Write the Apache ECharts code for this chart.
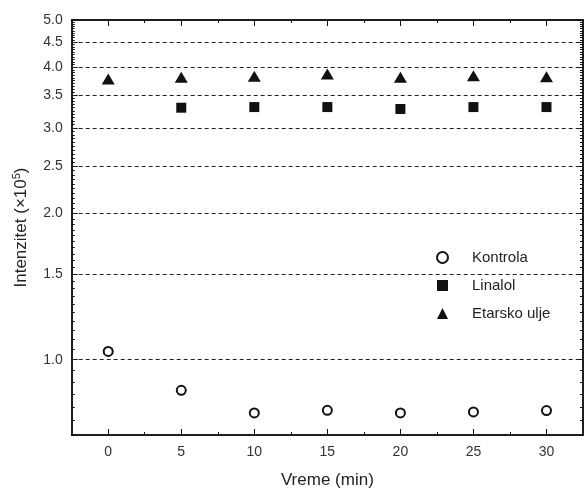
<!DOCTYPE html>
<html>
<head>
<meta charset="utf-8">
<script src="https://cdn.jsdelivr.net/npm/echarts@6/dist/echarts.min.js"></script>
<style>html,body{margin:0;padding:0;background:#fff}#c{width:584px;height:494px}</style>
</head>
<body>
<div id="c"></div>
<script>
// Data
var times = [0, 5, 10, 15, 20, 25, 30];
var kontrola = [1.04, 0.865, 0.777, 0.787, 0.777, 0.781, 0.786];
var linalolTimes = [5, 10, 15, 20, 25, 30];
var linalol = [3.30, 3.31, 3.31, 3.28, 3.31, 3.31];
var etarsko = [3.78, 3.81, 3.83, 3.87, 3.81, 3.84, 3.82];
var yTickLabels = [1.0, 1.5, 2.0, 2.5, 3.0, 3.5, 4.0, 4.5, 5.0];
var gridValues = [1.0, 1.5, 2.0, 2.5, 3.0, 3.5, 4.0, 4.5];
var xTickLabels = [0, 5, 10, 15, 20, 25, 30];
var xMinorTicks = [2.5, 7.5, 12.5, 17.5, 22.5, 27.5];

var yMinor = [];
for (var i = 0; i <= 86; i++) { yMinor.push(Math.round((0.7 + i * 0.05) * 100) / 100); }

function pairs(xs, ys) { return xs.map(function (x, i) { return [x, ys[i]]; }); }

var FONT = 'Liberation Sans';
var axisColor = '#111';
var YMIN = 0.7, YMAX = 5.0, XMIN = -2.5, XMAX = 32.5;

function yAx(pos, ticks, len, showLabel, extra) {
  var a = {
    type: 'log', logBase: 10, min: YMIN, max: YMAX, position: pos,
    axisLine: { show: true, onZero: false, lineStyle: { color: axisColor, width: 1.5 } },
    axisTick: { show: true, inside: true, length: len, customValues: ticks, lineStyle: { color: axisColor, width: 1 } },
    axisLabel: showLabel ? { show: true, customValues: yTickLabels, fontFamily: FONT, fontSize: 14, color: '#333', margin: 9,
      formatter: function (v) { return Number(v).toFixed(1); } } : { show: false },
    splitLine: { show: false }, minorTick: { show: false }
  };
  if (extra) for (var k in extra) a[k] = extra[k];
  return a;
}
function xAx(pos, ticks, len, showLabel, extra) {
  var a = {
    type: 'value', min: XMIN, max: XMAX, position: pos,
    axisLine: { show: true, onZero: false, lineStyle: { color: axisColor, width: 1.5 } },
    axisTick: { show: true, inside: true, length: len, customValues: ticks, lineStyle: { color: axisColor, width: 1 } },
    axisLabel: showLabel ? { show: true, customValues: xTickLabels, fontFamily: FONT, fontSize: 14, color: '#333', margin: 10 } : { show: false },
    splitLine: { show: false }
  };
  if (extra) for (var k in extra) a[k] = extra[k];
  return a;
}

var chart = echarts.init(document.getElementById('c'), null, { renderer: 'canvas' });
chart.setOption({
  animation: false,
  backgroundColor: '#fff',
  grid: { left: 71.7, right: 1, top: 20, bottom: 59, containLabel: false },
  xAxis: [
    xAx('bottom', xTickLabels, 6, true, { name: 'Vreme (min)', nameLocation: 'middle', nameGap: 37,
      nameTextStyle: { fontFamily: FONT, fontSize: 17, color: '#222' } }),
    xAx('bottom', xMinorTicks, 3, false),
    xAx('top', xTickLabels, 6, false),
    xAx('top', xMinorTicks, 3, false)
  ],
  yAxis: [
    yAx('left', yTickLabels, 6, true, { name: 'Intenzitet (×10{sup|5})', nameLocation: 'middle', nameGap: 41,
      nameTextStyle: { fontFamily: FONT, fontSize: 17, color: '#222',
        rich: { sup: { fontFamily: FONT, fontSize: 11, color: '#222', verticalAlign: 'top', padding: [0, 0, 8, 0] } } } }),
    yAx('left', yMinor, 3, false),
    yAx('right', yTickLabels, 6, false),
    yAx('right', yMinor, 3, false)
  ],
  legend: {
    orient: 'vertical', left: 414, top: 242,
    backgroundColor: '#fff', padding: [8, 8, 8, 22],
    itemWidth: 11, itemHeight: 11, itemGap: 13,
    formatter: function (name) { return '{t|' + name + '}'; },
    textStyle: { fontFamily: FONT, fontSize: 15, color: '#222', lineHeight: 15,
      rich: { t: { fontFamily: FONT, fontSize: 15, color: '#222', padding: [0, 0, 0, 19] } } },
    data: [
      { name: 'Kontrola', itemStyle: { borderWidth: 2.5 } },
      { name: 'Linalol' },
      { name: 'Etarsko ulje' }
    ]
  },
  series: [
    {
      name: 'Kontrola', type: 'scatter', xAxisIndex: 0, yAxisIndex: 0,
      symbol: 'emptyCircle', symbolSize: 9,
      itemStyle: { color: '#111', borderColor: '#111', borderWidth: 2.5, opacity: 1 },
      data: pairs(times, kontrola),
      markLine: {
        silent: true, symbol: 'none', animation: false,
        label: { show: false },
        lineStyle: { color: '#222', type: [4, 3], width: 1 },
        data: gridValues.map(function (v) { return { yAxis: v }; })
      },
      z: 3
    },
    {
      name: 'Linalol', type: 'scatter', xAxisIndex: 0, yAxisIndex: 0,
      symbol: 'rect', symbolSize: 10,
      itemStyle: { color: '#111', opacity: 1 },
      data: pairs(linalolTimes, linalol), z: 3
    },
    {
      name: 'Etarsko ulje', type: 'scatter', xAxisIndex: 0, yAxisIndex: 0,
      symbol: 'triangle', symbolSize: [13, 11],
      itemStyle: { color: '#111', opacity: 1 },
      data: pairs(times, etarsko), z: 3
    }
  ]
});
</script>
</body>
</html>
